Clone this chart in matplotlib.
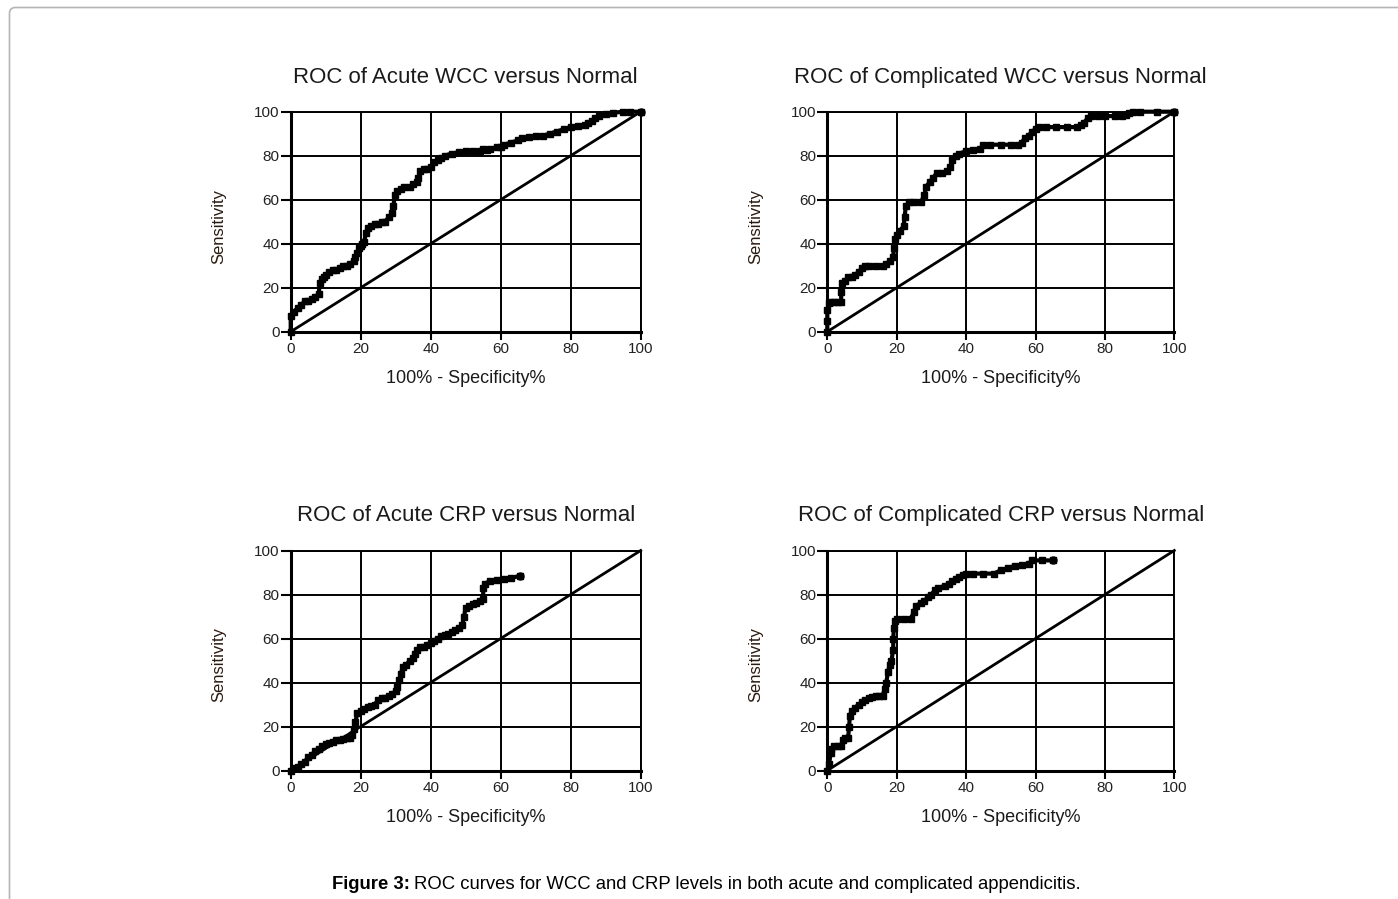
import matplotlib
matplotlib.use("Agg")
import matplotlib.pyplot as plt
from matplotlib.patches import FancyBboxPatch
from matplotlib.transforms import IdentityTransform

plt.rcParams['font.family'] = ['Liberation Sans', 'DejaVu Sans']

# ROC curves: (100% - specificity%, sensitivity)
acute_wcc_x = [0, 0, 1, 2, 3, 4, 5, 6, 7, 8, 8.3, 8.8, 9.5, 10, 11, 12, 13, 14, 15, 16,
               17, 18, 18.5, 19, 19.5, 20, 20.5, 21, 21.5, 22, 23, 24, 25, 26, 27, 28,
               29, 29.3, 29.8, 30.5, 31.5, 32.5, 34, 35, 36, 36.5, 37, 38, 39, 40, 41,
               42, 43, 44, 46, 48, 50, 52, 54, 55, 56, 57, 59, 60, 61, 63, 65, 66, 68,
               70, 72, 74, 76, 78, 80, 82, 84, 85, 86, 87, 88, 90, 92, 95, 97, 100]
acute_wcc_y = [0, 7, 9, 11, 12, 14, 14, 15, 16, 17, 22, 24, 25, 26, 27, 28, 28, 29, 30, 30,
               31, 32, 34, 36, 38, 39, 40, 41, 45, 47, 48, 49, 49, 50, 50, 52,
               54, 57, 62, 64, 65, 66, 66, 67, 68, 70, 73, 74, 74, 75, 77,
               78, 79, 80, 81, 81.5, 82, 82, 82, 83, 82.5, 83, 84, 84, 85, 86, 87, 88, 88.5,
               89, 89, 90, 91, 92, 93, 93.5, 94, 95, 96, 97, 98, 99, 99.5, 100, 100, 100]

comp_wcc_x = [0, 0, 0, 0.5, 1, 2, 3, 4, 4, 4.2, 5, 6, 7, 8, 9, 10, 11, 12, 14, 16, 17, 18,
              19, 19.2, 19.5, 20, 21, 22, 22.3, 22.6, 23.5, 25, 27, 28, 28.5, 29.5, 30.5,
              31.5, 33, 34.5, 35.5, 36, 37, 38, 40, 42, 44, 45, 47, 50, 53, 55, 56, 57,
              58, 59, 60, 61, 63, 66, 69, 72, 73, 74, 75, 76, 78, 80, 83, 85, 86, 87, 88,
              90, 95, 100]
comp_wcc_y = [0, 5, 10, 13, 13.5, 13.5, 13.5, 13.5, 18, 22, 23, 25, 25, 26, 27, 29, 30, 30, 30, 30, 31, 32,
              34, 38, 42, 44, 46, 48, 52, 57, 59, 59, 59, 62, 66, 68, 70,
              72, 72, 73, 75, 78, 80, 81, 82, 82.5, 83, 85, 85, 85, 85, 85, 86, 88,
              89, 91, 92, 93, 93, 93, 93, 93, 94, 95, 97, 98, 98, 98, 98, 98, 98.5, 99.5, 100,
              100, 100, 100]

acute_crp_x = [0, 1, 2, 3, 4, 5, 6, 7, 8, 9, 10, 11, 12, 13, 14, 15, 16, 17, 17.5, 18, 18.5,
               19, 20, 21, 22, 23, 24, 25, 26, 27, 28, 29, 30, 30.5, 31, 31.5, 32, 33, 34,
               35, 35.5, 36, 37, 38, 39, 40, 41, 42, 43, 44, 45, 46, 47, 48, 49, 49.5, 50,
               51, 52, 53, 54, 55, 55, 55.5, 57, 59, 61, 63, 65.5]
acute_crp_y = [0, 1, 1.5, 3, 4, 6, 7, 9, 10, 11, 12, 12.5, 13, 14, 14, 14.5, 15, 15, 16, 19, 22,
               26, 27, 28, 29, 29.5, 30, 32, 33, 33, 34, 35, 36, 38, 41, 44, 47, 48, 50,
               51, 53, 55, 56, 56, 57, 58, 59, 60, 61, 61.5, 62, 63, 64, 65, 66, 70, 74,
               75, 75.5, 76, 77, 78, 83, 85, 86, 86.5, 87, 87.5, 88.5]

comp_crp_x = [0, 0.5, 1, 1, 2, 3, 4, 4.5, 5, 6, 6.3, 6.5, 7, 8, 9, 10, 11, 12, 13, 14, 15, 16,
              16.5, 17, 17.5, 18, 18.5, 19, 19, 19.2, 19.5, 20, 22, 24, 25, 25.5, 27, 28,
              29, 30, 31, 32, 34, 35, 36, 37, 38, 39, 40, 42, 45, 48, 50, 52, 54, 56, 58,
              59, 62, 65]
comp_crp_y = [0, 3, 8, 10, 11, 11, 11, 14, 15, 15, 20, 25, 27, 28.5, 30, 31, 32, 33, 33.5, 34, 34, 34,
              37, 40, 45, 48, 50, 55, 60, 65, 68, 69, 69, 69, 72, 75, 76, 77,
              79, 80, 82, 83, 84, 85, 86, 87, 88, 89, 89.5, 89.5, 89.5, 89.5, 91, 92, 93, 93.5, 94,
              95.5, 95.5, 95.5]

titles = ["ROC of Acute WCC versus Normal", "ROC of Complicated WCC versus Normal",
          "ROC of Acute CRP versus Normal", "ROC of Complicated CRP versus Normal"]
curves = [(acute_wcc_x, acute_wcc_y), (comp_wcc_x, comp_wcc_y),
          (acute_crp_x, acute_crp_y), (comp_crp_x, comp_crp_y)]
ticks = [0, 20, 40, 60, 80, 100]

W, H = 1398, 899
fig = plt.figure(figsize=(W / 100, H / 100), dpi=100)

# axes boxes in pixels: left, top, width, height
boxes = [(290.7, 111.7, 350, 220), (827.3, 111.7, 347, 220),
         (290.7, 550.5, 350, 220), (827.3, 550.5, 347, 220)]

for (l, t, w, h), title, (cx, cy) in zip(boxes, titles, curves):
    ax = fig.add_axes([l / W, (H - t - h) / H, w / W, h / H])
    ax.set_xlim(0, 100)
    ax.set_ylim(0, 100)
    ax.set_xticks(ticks)
    ax.set_yticks(ticks)
    ax.grid(True, color='black', linewidth=1.4)
    ax.set_axisbelow(True)
    for side in ['top', 'right']:
        ax.spines[side].set_linewidth(1.4)
    for side in ['left', 'bottom']:
        ax.spines[side].set_linewidth(2.2)
    ax.tick_params(direction='out', length=6, width=1.5, pad=1.5, labelsize=11,
                   colors='black')
    ax.tick_params(axis='y', length=7, pad=1)
    for lab in ax.get_xticklabels() + ax.get_yticklabels():
        lab.set_color('#222222')

    ax.plot([0, 100], [0, 100], color='black', linewidth=2.0, clip_on=False)
    ax.plot(cx, cy, color='black', linewidth=3.0, marker='s', markersize=3.8,
            clip_on=False)
    ax.plot(cx[-1], cy[-1], color='black', marker='o', markersize=5, clip_on=False)

    ax.set_title(title, fontsize=16, pad=21, color='#1a1a1a')
    ax.text(0.5, -51.3 / h, "100% - Specificity%", transform=ax.transAxes,
            ha='center', va='baseline', fontsize=13, color='#1a1a1a')
    ax.text(-71.5 / w, 0.48, "Sensitivity", transform=ax.transAxes, rotation=90,
            ha='center', va='center', fontsize=12, color='#2a1a10')

# rounded page frame at the top-left
frame = FancyBboxPatch((9.5, -30), W + 40, H - 7.5 + 30,
                       boxstyle='round,pad=0,rounding_size=6',
                       transform=IdentityTransform(), facecolor='none',
                       edgecolor='#b5b5b5', linewidth=1.2)
fig.patches.append(frame)

# caption
cap_size = 13.3
cap1 = fig.text(331.7 / W, 1 - 888.7 / H, "Figure 3:", fontsize=cap_size,
                fontweight='bold', ha='left', va='baseline')
fig.canvas.draw()
bb = cap1.get_window_extent()
fig.text((bb.x1 + 4) / W, 1 - 888.7 / H,
         "ROC curves for WCC and CRP levels in both acute and complicated appendicitis.",
         fontsize=cap_size, ha='left', va='baseline')

fig.savefig("out.png", dpi=100)
